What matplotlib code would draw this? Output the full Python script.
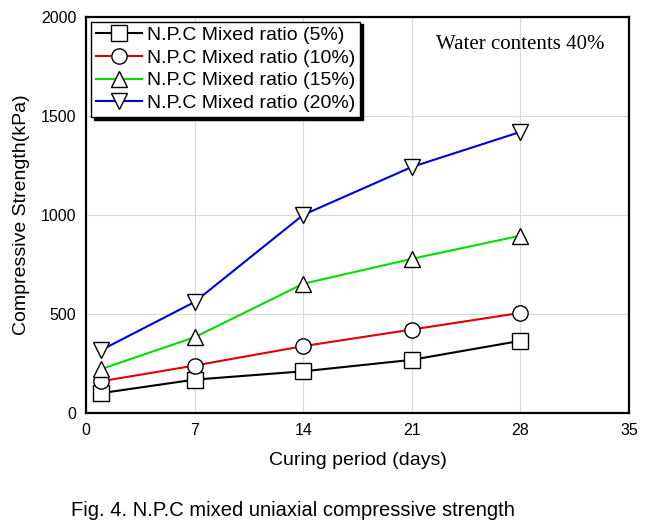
import matplotlib.pyplot as plt


days = [1, 7, 14, 21, 28]

ratio_5 = [100, 168, 210, 268, 364]
ratio_10 = [160, 239, 337, 421, 505]
ratio_15 = [222, 382, 652, 778, 895]
ratio_20 = [318, 560, 1000, 1242, 1419]

series = [
    ("N.P.C Mixed ratio (5%)", ratio_5, "black", "s"),
    ("N.P.C Mixed ratio (10%)", ratio_10, "#e00000", "o"),
    ("N.P.C Mixed ratio (15%)", ratio_15, "#00dd00", "^"),
    ("N.P.C Mixed ratio (20%)", ratio_20, "#0000dd", "v"),
]

x_ticks = [0, 7, 14, 21, 28, 35]
y_ticks = [0, 500, 1000, 1500, 2000]


def main() -> None:
    plt.rcParams["font.family"] = ["Liberation Sans", "DejaVu Sans"]

    fig = plt.figure(figsize=(6.56, 5.26), dpi=100)
    ax = fig.add_axes([0.131, 0.215, 0.828, 0.753])

    for label, values, color, marker in series:
        ax.plot(
            days,
            values,
            color=color,
            linewidth=1.5,
            marker=marker,
            markersize=11,
            markerfacecolor="white",
            markeredgecolor="black",
            markeredgewidth=1.0,
            label=label,
        )

    ax.set_xlim(0, 35)
    ax.set_ylim(0, 2000)
    ax.set_xticks(x_ticks)
    ax.set_yticks(y_ticks)
    ax.tick_params(length=0, labelsize=11.5, pad=7)
    ax.grid(True, color="#d8d8d8", linewidth=0.8)
    ax.set_axisbelow(True)
    for spine in ax.spines.values():
        spine.set_linewidth(1.6)

    ax.set_xlabel("Curing period (days)", fontsize=14, labelpad=10)
    ax.set_ylabel("Compressive Strength(kPa)", fontsize=14, labelpad=8)

    legend = ax.legend(
        loc="upper left",
        bbox_to_anchor=(0.0, 1.0),
        fontsize=14,
        handlelength=2.4,
        handletextpad=0.25,
        borderpad=0.25,
        labelspacing=0.26,
        borderaxespad=0.25,
        fancybox=False,
        shadow={"color": "black", "alpha": 1.0},
        framealpha=1.0,
        edgecolor="black",
    )
    legend.get_frame().set_linewidth(1.0)

    ax.text(
        0.955,
        0.93,
        "Water contents 40%",
        transform=ax.transAxes,
        ha="right",
        va="center",
        fontsize=15,
        family="Liberation Serif",
    )

    fig.text(
        0.446,
        0.03,
        "Fig. 4. N.P.C mixed uniaxial compressive strength",
        ha="center",
        va="center",
        fontsize=14.5,
    )

    fig.savefig("out.png", dpi=100)
    plt.close(fig)


if __name__ == "__main__":
    main()
